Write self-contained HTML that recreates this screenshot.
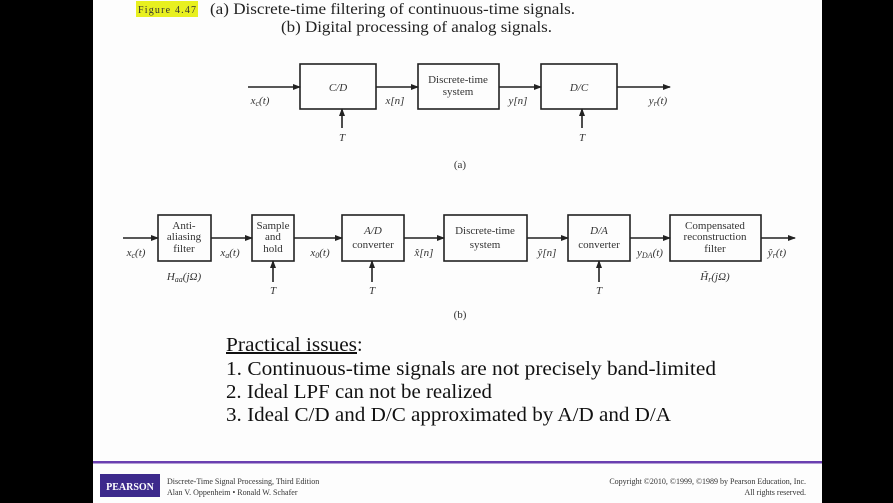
<!DOCTYPE html>
<html><head><meta charset="utf-8"><style>
html,body{margin:0;padding:0;background:#000;}
svg{display:block}
</style></head><body>
<svg width="893" height="503" viewBox="0 0 893 503" xmlns="http://www.w3.org/2000/svg" font-family="Liberation Serif, serif">
<defs><marker id="a" markerWidth="8" markerHeight="6" refX="7" refY="3" orient="auto" markerUnits="userSpaceOnUse"><path d="M0,0 L8,3 L0,6 z" fill="#222"/></marker></defs>
<rect x="0" y="0" width="893" height="503" fill="#000"/>
<rect x="93" y="0" width="729" height="503" fill="#fdfdfd"/>
<rect x="136" y="1" width="62" height="16" fill="#e8f020"/>
<text x="138" y="13" font-size="10" fill="#333" textLength="58">Figure 4.47</text>
<text x="210" y="14" font-size="16" fill="#222" textLength="365" lengthAdjust="spacingAndGlyphs">(a) Discrete-time filtering of continuous-time signals.</text>
<text x="281" y="32" font-size="16" fill="#222" textLength="271" lengthAdjust="spacingAndGlyphs">(b) Digital processing of analog signals.</text>
<g stroke="#222" stroke-width="1.6" fill="none">
<rect x="300" y="64" width="76" height="45"/>
<rect x="418" y="64" width="81" height="45"/>
<rect x="541" y="64" width="76" height="45"/>
<line x1="248" y1="87" x2="300" y2="87" marker-end="url(#a)"/>
<line x1="376" y1="87" x2="418" y2="87" marker-end="url(#a)"/>
<line x1="499" y1="87" x2="541" y2="87" marker-end="url(#a)"/>
<line x1="617" y1="87" x2="670" y2="87" marker-end="url(#a)"/>
<line x1="342" y1="128" x2="342" y2="109" marker-end="url(#a)"/>
<line x1="582" y1="128" x2="582" y2="109" marker-end="url(#a)"/>
<rect x="158" y="215" width="53" height="46"/>
<rect x="252" y="215" width="42" height="46"/>
<rect x="342" y="215" width="62" height="46"/>
<rect x="444" y="215" width="83" height="46"/>
<rect x="568" y="215" width="62" height="46"/>
<rect x="670" y="215" width="91" height="46"/>
<line x1="123" y1="238" x2="158" y2="238" marker-end="url(#a)"/>
<line x1="211" y1="238" x2="252" y2="238" marker-end="url(#a)"/>
<line x1="294" y1="238" x2="342" y2="238" marker-end="url(#a)"/>
<line x1="404" y1="238" x2="444" y2="238" marker-end="url(#a)"/>
<line x1="527" y1="238" x2="568" y2="238" marker-end="url(#a)"/>
<line x1="630" y1="238" x2="670" y2="238" marker-end="url(#a)"/>
<line x1="761" y1="238" x2="795" y2="238" marker-end="url(#a)"/>
<line x1="273" y1="282" x2="273" y2="261" marker-end="url(#a)"/>
<line x1="372" y1="282" x2="372" y2="261" marker-end="url(#a)"/>
<line x1="599" y1="282" x2="599" y2="261" marker-end="url(#a)"/>
</g>
<g font-size="11" fill="#333" text-anchor="middle">
<text x="338" y="91" font-style="italic">C/D</text>
<text x="458" y="83">Discrete-time</text><text x="458" y="95">system</text>
<text x="579" y="91" font-style="italic">D/C</text>
<text x="260" y="104" font-style="italic">x<tspan font-size="8" dy="2">c</tspan><tspan dy="-2">(t)</tspan></text>
<text x="395" y="104" font-style="italic">x[n]</text>
<text x="518" y="104" font-style="italic">y[n]</text>
<text x="658" y="104" font-style="italic">y<tspan font-size="8" dy="2">r</tspan><tspan dy="-2">(t)</tspan></text>
<text x="342" y="141" font-style="italic">T</text>
<text x="582" y="141" font-style="italic">T</text>
<text x="460" y="168">(a)</text>
<text x="184" y="229">Anti-</text><text x="184" y="240">aliasing</text><text x="184" y="252">filter</text>
<text x="273" y="229">Sample</text><text x="273" y="240">and</text><text x="273" y="252">hold</text>
<text x="373" y="234" font-style="italic">A/D</text><text x="373" y="248">converter</text>
<text x="485" y="234">Discrete-time</text><text x="485" y="248">system</text>
<text x="599" y="234" font-style="italic">D/A</text><text x="599" y="248">converter</text>
<text x="715" y="229">Compensated</text><text x="715" y="240">reconstruction</text><text x="715" y="252">filter</text>
<text x="136" y="256" font-style="italic">x<tspan font-size="8" dy="2">c</tspan><tspan dy="-2">(t)</tspan></text>
<text x="230" y="256" font-style="italic">x<tspan font-size="8" dy="2">a</tspan><tspan dy="-2">(t)</tspan></text>
<text x="320" y="256" font-style="italic">x<tspan font-size="8" dy="2">0</tspan><tspan dy="-2">(t)</tspan></text>
<text x="424" y="256" font-style="italic">x̂[n]</text>
<text x="547" y="256" font-style="italic">ŷ[n]</text>
<text x="650" y="256" font-style="italic">y<tspan font-size="8" dy="2">DA</tspan><tspan dy="-2">(t)</tspan></text>
<text x="777" y="256" font-style="italic">ŷ<tspan font-size="8" dy="2">r</tspan><tspan dy="-2">(t)</tspan></text>
<text x="184" y="280" font-style="italic">H<tspan font-size="8" dy="2">aa</tspan><tspan dy="-2">(jΩ)</tspan></text>
<text x="715" y="280" font-style="italic">H̃<tspan font-size="8" dy="2">r</tspan><tspan dy="-2">(jΩ)</tspan></text>
<text x="273" y="294" font-style="italic">T</text>
<text x="372" y="294" font-style="italic">T</text>
<text x="599" y="294" font-style="italic">T</text>
<text x="460" y="318">(b)</text>
</g>
<g font-size="20" fill="#111">
<text x="226" y="351" textLength="131" lengthAdjust="spacingAndGlyphs" text-decoration="underline">Practical issues</text><text x="357" y="351">:</text>
<text x="226" y="375" textLength="490" lengthAdjust="spacingAndGlyphs">1. Continuous-time signals are not precisely band-limited</text>
<text x="226" y="398" textLength="266" lengthAdjust="spacingAndGlyphs">2. Ideal LPF can not be realized</text>
<text x="226" y="421" textLength="445" lengthAdjust="spacingAndGlyphs">3. Ideal C/D and D/C approximated by A/D and D/A</text>
</g>
<rect x="93" y="461" width="729" height="2.5" fill="#6a3fb0"/>
<rect x="100" y="474" width="60" height="23" fill="#3d2a8c"/>
<text x="130" y="490" font-size="10" fill="#fff" text-anchor="middle" font-weight="bold">PEARSON</text>
<text x="167" y="484" font-size="8" fill="#333">Discrete-Time Signal Processing, Third Edition</text>
<text x="167" y="495" font-size="8" fill="#333">Alan V. Oppenheim • Ronald W. Schafer</text>
<text x="806" y="484" font-size="8" fill="#333" text-anchor="end">Copyright ©2010, ©1999, ©1989 by Pearson Education, Inc.</text>
<text x="806" y="495" font-size="8" fill="#333" text-anchor="end">All rights reserved.</text>
</svg>
</body></html>
